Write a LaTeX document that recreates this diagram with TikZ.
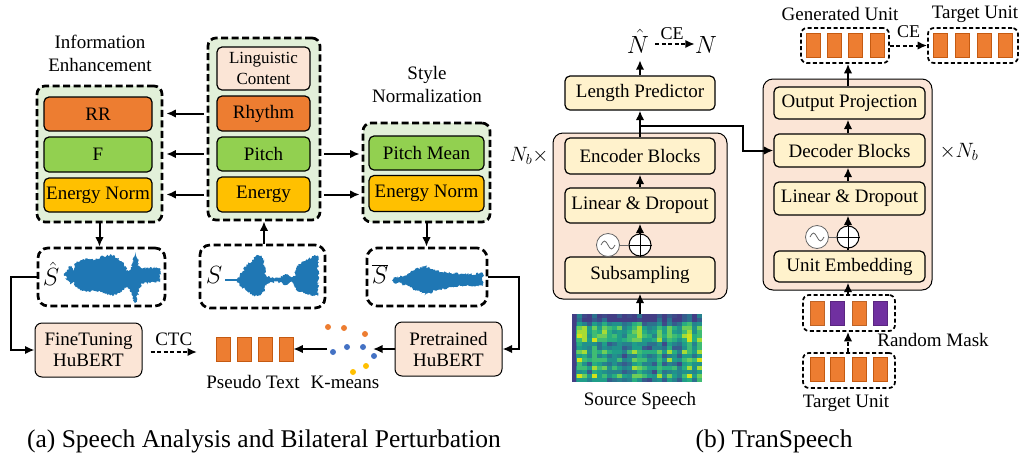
\documentclass[tikz,border=0pt]{standalone}
\usepackage{fontspec}
\setmainfont{Liberation Serif}
\usetikzlibrary{arrows.meta,calc,decorations.pathmorphing}

\definecolor{grpgreen}{HTML}{E2F0D9}
\definecolor{peach}{HTML}{FBE5D6}
\definecolor{cream}{HTML}{FFF2CC}
\definecolor{rrorange}{HTML}{ED7D31}
\definecolor{fgreen}{HTML}{92D050}
\definecolor{gold}{HTML}{FFC000}
\definecolor{wave}{HTML}{1F77B4}
\definecolor{unitedge}{HTML}{C55A11}
\definecolor{maskpurple}{HTML}{7030A0}
\definecolor{dotblue}{HTML}{4472C4}
\definecolor{sp1}{HTML}{433E85}
\definecolor{sp2}{HTML}{3E4A89}
\definecolor{sp3}{HTML}{365C8D}
\definecolor{sp4}{HTML}{2C728E}
\definecolor{sp5}{HTML}{26828E}
\definecolor{sp6}{HTML}{21918C}
\definecolor{sp7}{HTML}{1F9E89}
\definecolor{sp8}{HTML}{28AE80}
\definecolor{sp9}{HTML}{3FBC73}
\definecolor{sp10}{HTML}{6DCD59}
\definecolor{sp11}{HTML}{A5DB36}
\definecolor{sp12}{HTML}{D2E21B}

\tikzset{
  grp/.style={draw, line width=2.7pt, dash pattern=on 7pt off 3.5pt, rounded corners=8pt, fill=grpgreen, inner sep=0},
  wbox/.style={draw, line width=2.7pt, dash pattern=on 7pt off 3.5pt, rounded corners=10pt, inner sep=0},
  ubox/.style={draw, line width=1.7pt, dash pattern=on 4pt off 2.5pt, rounded corners=6pt, inner sep=0, minimum height=35},
  blk/.style={draw, line width=1.2pt, rounded corners=5pt, inner sep=0, align=center},
  outer/.style={draw, line width=1pt, rounded corners=10pt, fill=peach, inner sep=0},
  unit/.style={draw=unitedge, line width=0.6pt, fill=rrorange, minimum width=14, minimum height=24, inner sep=0},
  arr/.style={-{Latex[length=9.5pt,width=8.5pt]}, line width=2pt},
  dasharr/.style={arr, dash pattern=on 4pt off 2.5pt},
  sinecirc/.style={circle, draw=black!60, line width=0.8pt, fill=white, minimum size=23, inner sep=0},
  pluscirc/.style={circle, draw, line width=1pt, fill=white, minimum size=22, inner sep=0},
  bigmath/.style={font=\fontsize{30}{31}\selectfont, inner sep=0},
  wavefill/.style={fill=wave, decorate, decoration={random steps, segment length=1.1pt, amplitude=1.3pt}},
}

\begin{document}
\begin{tikzpicture}[x=1pt, y=-1pt, font=\fontsize{19}{21}\selectfont]
\useasboundingbox (0,0) rectangle (1021,459);

% (a) Speech Analysis and Bilateral Perturbation
\node[align=center, font=\fontsize{19}{23}\selectfont] (ietitle) at (100,53) {Information\\Enhancement};
\node[align=center, font=\fontsize{19}{23}\selectfont] (sntitle) at (427,84) {Style\\Normalization};

\node[grp, minimum width=125, minimum height=136] (ieg) at (99.5,154) {}; % information enhancement
\node[blk, fill=rrorange, minimum width=108, minimum height=34] (rr) at (98,114) {RR};
\node[blk, fill=fgreen, minimum width=108, minimum height=35] (f) at (98,154.5) {F};
\node[blk, fill=gold, minimum width=108, minimum height=34] (enA) at (98,195) {Energy Norm};

\node[grp, minimum width=112, minimum height=182] (mg) at (264,129) {}; % speech analysis
\node[blk, fill=peach, minimum width=93, minimum height=43, font=\fontsize{17}{21}\selectfont] (lc) at (263.5,68.5) {Linguistic\\Content};
\node[blk, fill=rrorange, minimum width=93, minimum height=35] (rhythm) at (263.5,113.5) {Rhythm};
\node[blk, fill=fgreen, minimum width=93, minimum height=34] (pitch) at (263.5,154) {Pitch};
\node[blk, fill=gold, minimum width=93, minimum height=35] (energy) at (263.5,194.5) {Energy};

\node[grp, minimum width=127, minimum height=99] (sng) at (426.5,172.5) {}; % style normalization
\node[blk, fill=fgreen, minimum width=115, minimum height=34] (pm) at (426.5,153) {Pitch Mean};
\node[blk, fill=gold, minimum width=115, minimum height=36] (enB) at (426.5,193.5) {Energy Norm};

\draw[arr, shorten <=3pt, shorten >=3pt] (mg.west |- rhythm) -- (ieg.east |- rhythm);
\draw[arr, shorten <=3pt, shorten >=3pt] (mg.west |- pitch) -- (ieg.east |- pitch);
\draw[arr, shorten <=3pt, shorten >=3pt] (mg.west |- energy) -- (ieg.east |- energy);
\draw[arr, shorten <=3pt, shorten >=2pt] (mg.east |- pitch) -- (sng.west |- pitch);
\draw[arr, shorten <=3pt, shorten >=2pt] (mg.east |- energy) -- (sng.west |- energy);

% waveforms
\node[wbox, minimum width=127, minimum height=58] (wh) at (101.5,277) {};
\node[wbox, minimum width=125, minimum height=63] (ws) at (262.5,276.5) {};
\node[wbox, minimum width=120, minimum height=58] (wb) at (427,277) {};
\pgfmathsetseed{5}
\path[wavefill] (65,273) -- (67,270) -- (70,266) -- (72,268) -- (74,270) -- (75,263) -- (78,262) -- (82,260) -- (88,259) -- (94,260)
  -- (100,257) -- (106,256) -- (110,255) -- (114,255) -- (117,258) -- (120,261) -- (124,264) -- (127,271) -- (130,270)
  -- (133,262) -- (135,252) -- (137,258) -- (139,266) -- (141,268) -- (150,268) -- (160,268)
  -- (160,282) -- (150,283) -- (141,283) -- (139,290) -- (137,298) -- (135,303) -- (133,296) -- (130,289) -- (127,287)
  -- (124,290) -- (120,293) -- (117,294) -- (114,295) -- (110,295) -- (106,294) -- (100,292) -- (94,291) -- (88,291)
  -- (82,290) -- (78,289) -- (75,286) -- (74,281) -- (72,283) -- (70,284) -- (67,280) -- (65,276) -- cycle; % S hat
\path[wavefill] (237,279) -- (242,272) -- (247,265) -- (252,260) -- (257,256) -- (261,256) -- (264,262) -- (266,276)
  -- (270,277.5) -- (280,277.5) -- (283,275) -- (286,274) -- (289,277) -- (294,277.5) -- (296,268) -- (300,264) -- (305,261)
  -- (310,258) -- (314,256) -- (318,255) -- (318,296) -- (314,295) -- (310,294) -- (305,293) -- (300,292) -- (296,290)
  -- (294,282) -- (289,283) -- (286,285) -- (283,284) -- (280,282) -- (270,282) -- (266,285) -- (264,291) -- (261,295)
  -- (257,296) -- (252,295) -- (247,291) -- (242,287) -- (237,281) -- cycle; % S
\draw[wave, line width=1.2pt] (225,280) -- (238,280);
\path[wavefill] (393,278) -- (400,277) -- (405,275) -- (410,273) -- (415,270) -- (420,268) -- (425,266) -- (430,268) -- (435,271)
  -- (440,272) -- (450,273) -- (460,274) -- (470,274) -- (483,273) -- (483,286) -- (470,286) -- (460,286) -- (450,287)
  -- (440,289) -- (435,291) -- (430,293) -- (425,294) -- (420,292) -- (415,290) -- (410,287) -- (405,285) -- (400,283)
  -- (393,282) -- cycle; % S bar
\node[bigmath] (lsh) at (51,274) {$\hat{S}$};
\node[bigmath] (ls) at (214,275) {$S$};
\node[bigmath] (lsb) at (380,274) {$\overline{S}$};

\draw[arr] (ieg.south) -- (ieg.south |- wh.north);
\draw[arr] (mg.south |- ws.north) -- (mg.south);
\draw[arr] (sng.south) -- (sng.south |- wb.north);

% HuBERT
\node[blk, fill=peach, minimum width=107, minimum height=54, line width=1pt, rounded corners=7pt] (ft) at (88.5,350) {FineTuning\\HuBERT};
\node[blk, fill=peach, minimum width=107, minimum height=54, line width=1pt, rounded corners=7pt] (pt) at (448.5,349) {Pretrained\\HuBERT};
\draw[arr] (wh.west) -- ++(-26,0) |- (ft.west);
\draw[arr] (wb.east) -- ++(31,0) |- (pt.east);

\foreach \x [count=\k] in {223,244,265,286} \node[unit] (u\k) at (\x,349) {};
\coordinate (ctcend) at (197,352);
\draw[dasharr] ([xshift=8pt]ft.east |- ctcend) -- (ctcend) node[midway, above=2pt] (ctc) {CTC};
\node (pseudo) at (253,382) {Pseudo Text};
\node (kmeans) at (345,382) {K-means};

\foreach \x/\y/\c in {328/327/rrorange, 344/328/rrorange, 365/334/rrorange, 347/347/dotblue, 363/347/dotblue,
  333/352/dotblue, 374/356/dotblue, 353/372/gold, 366/366/gold}
  \fill[\c] (\x,\y) circle[radius=3pt];
\coordinate (kmR) at (373,349);
\coordinate (kmL) at (327,349);
\draw[arr] (pt.west) -- (kmR);
\draw[arr] (kmL) -- (u4.east);

\node[font=\fontsize{25.5}{28}\selectfont] (capa) at (264,441) {(a) Speech Analysis and Bilateral Perturbation};

% (b) TranSpeech, encoder side
\node[outer, minimum width=174, minimum height=166] (enc) at (640,216) {};
\node[blk, fill=cream, minimum width=150, minimum height=34] (lp) at (640,93) {Length Predictor};
\node[blk, fill=cream, minimum width=150, minimum height=36] (eb) at (640,156) {Encoder Blocks};
\node[blk, fill=cream, minimum width=150, minimum height=35] (ldA) at (640,205.5) {Linear \& Dropout};
\node[blk, fill=cream, minimum width=150, minimum height=36] (ss) at (640,275) {Subsampling};
\node[anchor=east, font=\fontsize{21}{22}\selectfont] (nbA) at (552,156) {$N_b\times$};

\draw[arr] (ss.north) -- (ldA.south);
\node[sinecirc] (sA) at (608,245) {};
\node[pluscirc] (pA) at (640,245) {};
\draw[line width=1pt] (pA.west) -- (pA.east) (pA.north) -- (pA.south);
\draw[line width=0.8pt, black!60] (sA.east) -- (pA.west);
\draw[line width=0.8pt, black!60] ([xshift=-7pt]sA.center) sin ++(3.5,-4) cos ++(3.5,4) sin ++(3.5,4) cos ++(3.5,-4);
\draw[arr] (ldA.north) -- (eb.south);
\draw[arr] (eb.north) -- (lp.south);

\node[bigmath, anchor=base] (nh) at (638,53) {$\hat{N}$};
\node[bigmath, anchor=base] (n) at (706,53) {$N$};
\draw[arr, shorten >=7pt] (lp.north) -- (lp.north |- nh.south);
\draw[dasharr, shorten <=6pt] ([yshift=9pt]nh.base east) -- ([yshift=9pt]n.base west) node[midway, above=0pt, font=\fontsize{18}{20}\selectfont] (ceA) {CE};

% spectrogram
\node[minimum width=130, minimum height=68, inner sep=0] (spec) at (637,348) {};
\begin{scope}
\clip (spec.north west) rectangle (spec.south east);
\pgfmathsetseed{11}
\foreach \i in {0,...,25} {
  \pgfmathrandominteger{\base}{0}{4}
  \foreach \j in {0,...,16} {
    \pgfmathrandominteger{\r}{0}{3}
    \pgfmathtruncatemacro{\c}{min(12,max(1,2+\base+\r+((\j>=3)&&(\j<=6)?3:0)+((\j>=9)&&(mod(\j,2)==1)?3:0)-(\j<=1?4:0)))}
    \fill[sp\c] ({572+\i*5},{314+\j*4}) rectangle ++(5,4);
  }
}
\fill[sp1] (572,314) rectangle ++(4,68);
\end{scope}
\draw[arr] (ss.south |- spec.north) -- (ss.south);
\node (srcsp) at (640,401) {Source Speech};

\node[font=\fontsize{25.5}{28}\selectfont] (capb) at (774,441) {(b) TranSpeech};

% decoder side
\node[outer, minimum width=169, minimum height=211] (dec) at (847.5,184.5) {};
\node[blk, fill=cream, minimum width=151, minimum height=32] (op) at (849.5,103) {Output Projection};
\node[blk, fill=cream, minimum width=151, minimum height=33] (db) at (849.5,150.5) {Decoder Blocks};
\node[blk, fill=cream, minimum width=151, minimum height=33] (ldB) at (849.5,198.5) {Linear \& Dropout};
\node[blk, fill=cream, minimum width=151, minimum height=31] (ue) at (849.5,266.5) {Unit Embedding};
\node[anchor=west, font=\fontsize{21}{22}\selectfont] (nbB) at (936,152) {$\times N_b$};

\draw[arr] (ue.north -| 848,0) -- (ldB.south -| 848,0);
\node[sinecirc] (sB) at (817,237) {};
\node[pluscirc] (pB) at (848,237) {};
\draw[line width=1pt] (pB.west) -- (pB.east) (pB.north) -- (pB.south);
\draw[line width=0.8pt, black!60] (sB.east) -- (pB.west);
\draw[line width=0.8pt, black!60] ([xshift=-7pt]sB.center) sin ++(3.5,-4) cos ++(3.5,4) sin ++(3.5,4) cos ++(3.5,-4);
\draw[arr] (ldB.north -| 848,0) -- (db.south -| 848,0);
\draw[arr] (db.north -| 848,0) -- (op.south -| 848,0);

\coordinate (br) at (640,126);
\draw[arr] (br) -- ++(103,0) |- (db.west);

% units
\node[ubox, minimum width=88] (gu) at (845,45.5) {};
\foreach \x [count=\k] in {813,834,855.5,877} \node[unit] (g\k) at (\x,45.5) {};
\node[ubox, minimum width=90] (tuA) at (973,45.5) {};
\foreach \x [count=\k] in {940.5,962,984,1005.5} \node[unit] (t\k) at (\x,45.5) {};
\node (gulab) at (840,14) {Generated Unit};
\node (tulab) at (975,14) {Target Unit};
\draw[dasharr] (gu.east) -- (tuA.west) node[midway, above=3pt, font=\fontsize{18}{20}\selectfont] (ceB) {CE};
\draw[arr] (op.north -| 848,0) -- (gu.south -| 848,0);

\node[ubox, minimum width=92, minimum height=36] (mk) at (849,313) {};
\foreach \x/\c [count=\k] in {817/rrorange, 837/maskpurple, 859/rrorange, 880.5/maskpurple}
  \node[unit, fill=\c, draw=\c!80!black] (m\k) at (\x,313) {};
\node[ubox, minimum width=92] (tuB) at (849,370.5) {};
\foreach \x [count=\k] in {817,837,859,880.5} \node[unit] (b\k) at (\x,369.5) {};
\node (rmask) at (933,340) {Random Mask};
\node (tulabB) at (846,403) {Target Unit};
\draw[arr] (mk.north -| 848,0) -- (ue.south -| 848,0);
\draw[dasharr] (tuB.north -| 848,0) -- (mk.south -| 848,0);

\end{tikzpicture}
\end{document}
